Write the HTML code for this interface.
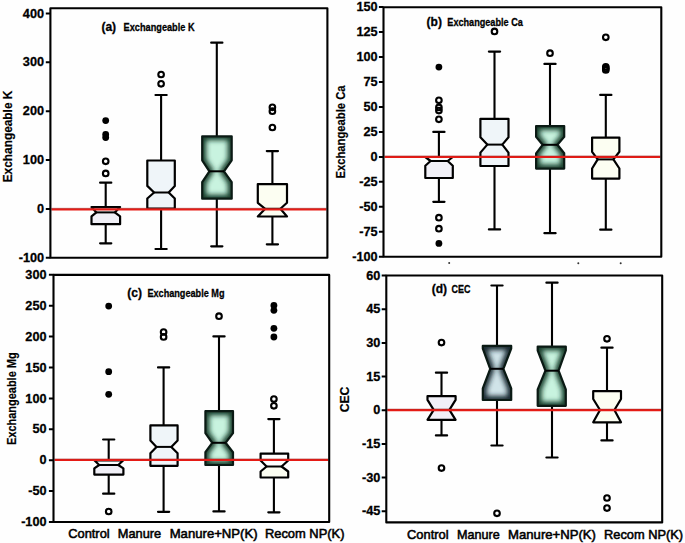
<!DOCTYPE html>
<html><head><meta charset="utf-8"><style>
html,body{margin:0;padding:0;background:#fff;}
svg{display:block;}
text{font-family:"Liberation Sans", sans-serif;font-weight:bold;fill:#000;}
.t{font-size:13.4px;stroke:#000;stroke-width:0.3px;}
.p{font-size:12px;stroke:#000;stroke-width:0.3px;}
.h{font-size:11.5px;stroke:#000;stroke-width:0.3px;}
.y{font-size:13px;stroke:#000;stroke-width:0.2px;}
.x{font-size:13px;font-weight:normal;stroke:#000;stroke-width:0.55px;}
</style></head><body>
<svg width="685" height="543" viewBox="0 0 685 543">
<defs><filter id="blur" x="-50%" y="-50%" width="200%" height="200%"><feGaussianBlur stdDeviation="2.4"/></filter><clipPath id="c1"><path d="M202.2 136.3 L231.7 136.3 L231.7 160.3 L224 171.3 L231.7 182.2 L231.7 198.7 L202.2 198.7 L202.2 182.2 L209.4 171.3 L202.2 160.3Z"/></clipPath><clipPath id="c2"><path d="M536.1 126.1 L564.2 126.1 L564.2 136.9 L557.4 144.8 L564.2 153.3 L564.2 168.6 L536.1 168.6 L536.1 153.3 L542.6 144.8 L536.1 136.9Z"/></clipPath><clipPath id="c3"><path d="M205.4 411.2 L233 411.2 L233 433.2 L225.6 442.8 L233 452.2 L233 465 L205.4 465 L205.4 452.2 L212.2 442.8 L205.4 433.2Z"/></clipPath><clipPath id="c4"><path d="M482.8 345.9 L511.2 345.9 L511.2 348.5 L503.4 368.8 L511.2 388.3 L511.2 400 L482.8 400 L482.8 388.3 L490.2 368.8 L482.8 348.5Z"/></clipPath><clipPath id="c5"><path d="M537.7 346.6 L565.8 346.6 L565.8 350.5 L558.6 370.7 L565.8 389.3 L565.8 405.8 L537.7 405.8 L537.7 389.3 L545.4 370.7 L537.7 350.5Z"/></clipPath></defs>
<rect width="685" height="543" fill="#fefefe"/>
<path d="M105.7 182.7V207M105.7 224.2V243.3" stroke="#000" stroke-width="2.1" fill="none"/>
<path d="M100.1 182.7H111.3M100.1 243.3H111.3" stroke="#000" stroke-width="2.2" stroke-linecap="round" fill="none"/>
<path d="M91.5 207 L120.1 207 L120.1 207 L114.8 212.4 L120.1 216.3 L120.1 224.2 L91.5 224.2 L91.5 216.3 L96.4 212.4 L91.5 207Z" fill="#f1f0f7"/>
<path d="M91.5 207 L120.1 207 L120.1 207 L114.8 212.4 L96.4 212.4 L91.5 207Z" fill="#fbfcfd"/>
<path d="M91.5 207 L120.1 207 L120.1 207 L114.8 212.4 L120.1 216.3 L120.1 224.2 L91.5 224.2 L91.5 216.3 L96.4 212.4 L91.5 207Z" fill="none" stroke="#000" stroke-width="2.2" stroke-linejoin="round"/>
<line x1="96.4" y1="212.4" x2="114.8" y2="212.4" stroke="#000" stroke-width="2"/>
<circle cx="105.7" cy="120.6" r="3.4" fill="#000"/>
<circle cx="105.7" cy="134.4" r="3.4" fill="#000"/>
<circle cx="105.7" cy="137.6" r="3.4" fill="#000"/>
<circle cx="105.7" cy="161.3" r="2.8" fill="none" stroke="#000" stroke-width="2.1"/>
<circle cx="105.7" cy="173.4" r="2.8" fill="none" stroke="#000" stroke-width="2.1"/>
<path d="M161.1 95V160.5M161.1 208.5V249" stroke="#000" stroke-width="2.1" fill="none"/>
<path d="M155.5 95H166.7M155.5 249H166.7" stroke="#000" stroke-width="2.2" stroke-linecap="round" fill="none"/>
<path d="M147.3 160.5 L174.8 160.5 L174.8 185.9 L168.7 192.5 L174.8 198.5 L174.8 208.5 L147.3 208.5 L147.3 198.5 L154.1 192.5 L147.3 185.9Z" fill="#eff5f9" stroke="#000" stroke-width="2.2" stroke-linejoin="round"/>
<line x1="154.1" y1="192.5" x2="168.7" y2="192.5" stroke="#000" stroke-width="2"/>
<circle cx="161.1" cy="74.5" r="2.8" fill="none" stroke="#000" stroke-width="2.1"/>
<circle cx="161.1" cy="83.8" r="2.8" fill="none" stroke="#000" stroke-width="2.1"/>
<path d="M216.8 42.7V136.3M216.8 198.7V246.3" stroke="#000" stroke-width="2.1" fill="none"/>
<path d="M211.2 42.7H222.4M211.2 246.3H222.4" stroke="#000" stroke-width="2.2" stroke-linecap="round" fill="none"/>
<path d="M202.2 136.3 L231.7 136.3 L231.7 160.3 L224 171.3 L231.7 182.2 L231.7 198.7 L202.2 198.7 L202.2 182.2 L209.4 171.3 L202.2 160.3Z" fill="#c8f3df"/>
<g clip-path="url(#c1)"><path d="M202.2 136.3 L231.7 136.3 L231.7 160.3 L224 171.3 L231.7 182.2 L231.7 198.7 L202.2 198.7 L202.2 182.2 L209.4 171.3 L202.2 160.3Z" fill="none" stroke="#173d2c" stroke-width="8" filter="url(#blur)"/></g>
<path d="M202.2 136.3 L231.7 136.3 L231.7 160.3 L224 171.3 L231.7 182.2 L231.7 198.7 L202.2 198.7 L202.2 182.2 L209.4 171.3 L202.2 160.3Z" fill="none" stroke="#0a1a14" stroke-width="2.2" stroke-linejoin="round"/>
<line x1="209.4" y1="171.3" x2="224" y2="171.3" stroke="#000" stroke-width="2"/>
<path d="M272.4 151.1V184.1M272.4 216.5V244.3" stroke="#000" stroke-width="2.1" fill="none"/>
<path d="M266.8 151.1H278M266.8 244.3H278" stroke="#000" stroke-width="2.2" stroke-linecap="round" fill="none"/>
<path d="M257.8 184.1 L287 184.1 L287 202.8 L280.4 208.8 L287 216.5 L287 216.5 L257.8 216.5 L257.8 216.5 L265.2 208.8 L257.8 202.8Z" fill="#fcfef2" stroke="#000" stroke-width="2.2" stroke-linejoin="round"/>
<line x1="265.2" y1="208.8" x2="280.4" y2="208.8" stroke="#000" stroke-width="2"/>
<circle cx="272.4" cy="107.3" r="2.8" fill="none" stroke="#000" stroke-width="2.1"/>
<circle cx="272.4" cy="111.2" r="2.8" fill="none" stroke="#000" stroke-width="2.1"/>
<circle cx="272.4" cy="127.5" r="2.8" fill="none" stroke="#000" stroke-width="2.1"/>
<line x1="51.4" y1="209.4" x2="326.4" y2="209.4" stroke="#e61b15" stroke-width="2.2"/>
<line x1="51.4" y1="208.3" x2="326.4" y2="208.3" stroke="#a02a2a" stroke-opacity="0.55" stroke-width="0.9"/>
<rect x="50.4" y="8.3" width="277" height="249.5" fill="none" stroke="#000" stroke-width="2.1" stroke-linejoin="round"/>
<path d="M45.8 13.4H50.4M45.8 62.3H50.4M45.8 111.2H50.4M45.8 160H50.4M45.8 208.9H50.4M45.8 257.8H50.4" stroke="#000" stroke-width="2"/>
<g transform="scale(0.95 1)">
<text x="46.42" y="17.6" text-anchor="end" class="t">400</text>
<text x="46.42" y="66.5" text-anchor="end" class="t">300</text>
<text x="46.42" y="115.4" text-anchor="end" class="t">200</text>
<text x="46.42" y="164.2" text-anchor="end" class="t">100</text>
<text x="46.42" y="213.1" text-anchor="end" class="t">0</text>
<text x="46.42" y="262" text-anchor="end" class="t">-100</text>
</g>
<text x="101.4" y="31.3" class="p">(a)</text>
<text x="123.6" y="30.7" class="h" textLength="71" lengthAdjust="spacingAndGlyphs">Exchangeable K</text>
<text transform="translate(11.9 182.3) rotate(-90)" class="y" textLength="91.7" lengthAdjust="spacingAndGlyphs">Exchangeable K</text>
<path d="M438.9 131.9V157M438.9 178V201.8" stroke="#000" stroke-width="2.1" fill="none"/>
<path d="M433.3 131.9H444.5M433.3 201.8H444.5" stroke="#000" stroke-width="2.2" stroke-linecap="round" fill="none"/>
<path d="M425.3 157 L452.8 157 L452.8 157 L447.7 161 L452.8 165.8 L452.8 178 L425.3 178 L425.3 165.8 L430.6 161 L425.3 157Z" fill="#f1f0f7"/>
<path d="M425.3 157 L452.8 157 L452.8 157 L447.7 161 L430.6 161 L425.3 157Z" fill="#fbfcfd"/>
<path d="M425.3 157 L452.8 157 L452.8 157 L447.7 161 L452.8 165.8 L452.8 178 L425.3 178 L425.3 165.8 L430.6 161 L425.3 157Z" fill="none" stroke="#000" stroke-width="2.2" stroke-linejoin="round"/>
<line x1="430.6" y1="161" x2="447.7" y2="161" stroke="#000" stroke-width="2"/>
<circle cx="438.9" cy="67.1" r="3.4" fill="#000"/>
<circle cx="438.9" cy="243.4" r="3.4" fill="#000"/>
<circle cx="438.9" cy="100.3" r="2.8" fill="none" stroke="#000" stroke-width="2.1"/>
<circle cx="438.9" cy="107.4" r="2.8" fill="none" stroke="#000" stroke-width="2.1"/>
<circle cx="438.9" cy="110.6" r="2.8" fill="none" stroke="#000" stroke-width="2.1"/>
<circle cx="438.9" cy="119.3" r="2.8" fill="none" stroke="#000" stroke-width="2.1"/>
<circle cx="438.9" cy="217.7" r="2.8" fill="none" stroke="#000" stroke-width="2.1"/>
<circle cx="438.9" cy="228.7" r="2.8" fill="none" stroke="#000" stroke-width="2.1"/>
<path d="M494.5 51.6V118.8M494.5 166V229.4" stroke="#000" stroke-width="2.1" fill="none"/>
<path d="M488.9 51.6H500.1M488.9 229.4H500.1" stroke="#000" stroke-width="2.2" stroke-linecap="round" fill="none"/>
<path d="M480.4 118.8 L508.5 118.8 L508.5 137.2 L502.3 144.6 L508.5 152.6 L508.5 166 L480.4 166 L480.4 152.6 L487.3 144.6 L480.4 137.2Z" fill="#eff5f9" stroke="#000" stroke-width="2.2" stroke-linejoin="round"/>
<line x1="487.3" y1="144.6" x2="502.3" y2="144.6" stroke="#000" stroke-width="2"/>
<circle cx="494.5" cy="31.4" r="2.8" fill="none" stroke="#000" stroke-width="2.1"/>
<path d="M550 63.9V126.1M550 168.6V233.2" stroke="#000" stroke-width="2.1" fill="none"/>
<path d="M544.4 63.9H555.6M544.4 233.2H555.6" stroke="#000" stroke-width="2.2" stroke-linecap="round" fill="none"/>
<path d="M536.1 126.1 L564.2 126.1 L564.2 136.9 L557.4 144.8 L564.2 153.3 L564.2 168.6 L536.1 168.6 L536.1 153.3 L542.6 144.8 L536.1 136.9Z" fill="#c8f3df"/>
<g clip-path="url(#c2)"><path d="M536.1 126.1 L564.2 126.1 L564.2 136.9 L557.4 144.8 L564.2 153.3 L564.2 168.6 L536.1 168.6 L536.1 153.3 L542.6 144.8 L536.1 136.9Z" fill="none" stroke="#173d2c" stroke-width="8" filter="url(#blur)"/></g>
<path d="M536.1 126.1 L564.2 126.1 L564.2 136.9 L557.4 144.8 L564.2 153.3 L564.2 168.6 L536.1 168.6 L536.1 153.3 L542.6 144.8 L536.1 136.9Z" fill="none" stroke="#0a1a14" stroke-width="2.2" stroke-linejoin="round"/>
<line x1="542.6" y1="144.8" x2="557.4" y2="144.8" stroke="#000" stroke-width="2"/>
<circle cx="550" cy="53.2" r="2.8" fill="none" stroke="#000" stroke-width="2.1"/>
<path d="M605.8 94.9V137.6M605.8 178.6V229.7" stroke="#000" stroke-width="2.1" fill="none"/>
<path d="M600.2 94.9H611.4M600.2 229.7H611.4" stroke="#000" stroke-width="2.2" stroke-linecap="round" fill="none"/>
<path d="M592.1 137.6 L619.4 137.6 L619.4 151.8 L613.4 159.4 L619.4 168.5 L619.4 178.6 L592.1 178.6 L592.1 168.5 L597.7 159.4 L592.1 151.8Z" fill="#fcfef2" stroke="#000" stroke-width="2.2" stroke-linejoin="round"/>
<line x1="597.7" y1="159.4" x2="613.4" y2="159.4" stroke="#000" stroke-width="2"/>
<circle cx="605.8" cy="37.3" r="2.8" fill="none" stroke="#000" stroke-width="2.1"/>
<circle cx="605.8" cy="66.8" r="2.8" fill="none" stroke="#000" stroke-width="2.1"/>
<circle cx="605.8" cy="68.4" r="2.8" fill="none" stroke="#000" stroke-width="2.1"/>
<circle cx="605.8" cy="69.9" r="2.8" fill="none" stroke="#000" stroke-width="2.1"/>
<line x1="384.5" y1="157" x2="660.3" y2="157" stroke="#e61b15" stroke-width="2.2"/>
<line x1="384.5" y1="155.9" x2="660.3" y2="155.9" stroke="#a02a2a" stroke-opacity="0.55" stroke-width="0.9"/>
<rect x="383.5" y="7.2" width="277.8" height="249.6" fill="none" stroke="#000" stroke-width="2.1" stroke-linejoin="round"/>
<path d="M378.9 7H383.5M378.9 31.98H383.5M378.9 56.96H383.5M378.9 81.94H383.5M378.9 106.92H383.5M378.9 131.9H383.5M378.9 156.88H383.5M378.9 181.86H383.5M378.9 206.84H383.5M378.9 231.82H383.5M378.9 256.8H383.5" stroke="#000" stroke-width="2"/>
<g transform="scale(0.95 1)">
<text x="397.47" y="11.2" text-anchor="end" class="t">150</text>
<text x="397.47" y="36.18" text-anchor="end" class="t">125</text>
<text x="397.47" y="61.16" text-anchor="end" class="t">100</text>
<text x="397.47" y="86.14" text-anchor="end" class="t">75</text>
<text x="397.47" y="111.12" text-anchor="end" class="t">50</text>
<text x="397.47" y="136.1" text-anchor="end" class="t">25</text>
<text x="397.47" y="161.08" text-anchor="end" class="t">0</text>
<text x="397.47" y="186.06" text-anchor="end" class="t">-25</text>
<text x="397.47" y="211.04" text-anchor="end" class="t">-50</text>
<text x="397.47" y="236.02" text-anchor="end" class="t">-75</text>
<text x="397.47" y="261" text-anchor="end" class="t">-100</text>
</g>
<text x="426.6" y="26.1" class="p">(b)</text>
<text x="447.3" y="26.3" class="h" textLength="75.5" lengthAdjust="spacingAndGlyphs">Exchangeable Ca</text>
<text transform="translate(345.2 178.5) rotate(-90)" class="y" textLength="93" lengthAdjust="spacingAndGlyphs">Exchangeable Ca</text>
<path d="M108.7 439.5V460.3M108.7 474.6V493.7" stroke="#000" stroke-width="2.1" fill="none"/>
<path d="M103.1 439.5H114.3M103.1 493.7H114.3" stroke="#000" stroke-width="2.2" stroke-linecap="round" fill="none"/>
<path d="M94.3 460.3 L123.4 460.3 L123.4 460.3 L118.3 465 L123.4 468.3 L123.4 474.6 L94.3 474.6 L94.3 468.3 L99.2 465 L94.3 460.3Z" fill="#f1f0f7"/>
<path d="M94.3 460.3 L123.4 460.3 L123.4 460.3 L118.3 465 L99.2 465 L94.3 460.3Z" fill="#fbfcfd"/>
<path d="M94.3 460.3 L123.4 460.3 L123.4 460.3 L118.3 465 L123.4 468.3 L123.4 474.6 L94.3 474.6 L94.3 468.3 L99.2 465 L94.3 460.3Z" fill="none" stroke="#000" stroke-width="2.2" stroke-linejoin="round"/>
<line x1="99.2" y1="465" x2="118.3" y2="465" stroke="#000" stroke-width="2"/>
<circle cx="108.7" cy="306.1" r="3.4" fill="#000"/>
<circle cx="108.7" cy="371.7" r="3.4" fill="#000"/>
<circle cx="108.7" cy="394.3" r="3.4" fill="#000"/>
<circle cx="108.7" cy="511.5" r="2.8" fill="none" stroke="#000" stroke-width="2.1"/>
<path d="M163.6 367.4V425.4M163.6 465.8V511.8" stroke="#000" stroke-width="2.1" fill="none"/>
<path d="M158 367.4H169.2M158 511.8H169.2" stroke="#000" stroke-width="2.2" stroke-linecap="round" fill="none"/>
<path d="M150.4 425.4 L177.6 425.4 L177.6 440.4 L171.3 446.9 L177.6 453.3 L177.6 465.8 L150.4 465.8 L150.4 453.3 L156.5 446.9 L150.4 440.4Z" fill="#eff5f9" stroke="#000" stroke-width="2.2" stroke-linejoin="round"/>
<line x1="156.5" y1="446.9" x2="171.3" y2="446.9" stroke="#000" stroke-width="2"/>
<circle cx="163.6" cy="332" r="2.8" fill="none" stroke="#000" stroke-width="2.1"/>
<circle cx="163.6" cy="336.9" r="2.8" fill="none" stroke="#000" stroke-width="2.1"/>
<path d="M219 336.4V411.2M219 465V511.4" stroke="#000" stroke-width="2.1" fill="none"/>
<path d="M213.4 336.4H224.6M213.4 511.4H224.6" stroke="#000" stroke-width="2.2" stroke-linecap="round" fill="none"/>
<path d="M205.4 411.2 L233 411.2 L233 433.2 L225.6 442.8 L233 452.2 L233 465 L205.4 465 L205.4 452.2 L212.2 442.8 L205.4 433.2Z" fill="#c8f3df"/>
<g clip-path="url(#c3)"><path d="M205.4 411.2 L233 411.2 L233 433.2 L225.6 442.8 L233 452.2 L233 465 L205.4 465 L205.4 452.2 L212.2 442.8 L205.4 433.2Z" fill="none" stroke="#173d2c" stroke-width="8" filter="url(#blur)"/></g>
<path d="M205.4 411.2 L233 411.2 L233 433.2 L225.6 442.8 L233 452.2 L233 465 L205.4 465 L205.4 452.2 L212.2 442.8 L205.4 433.2Z" fill="none" stroke="#0a1a14" stroke-width="2.2" stroke-linejoin="round"/>
<line x1="212.2" y1="442.8" x2="225.6" y2="442.8" stroke="#000" stroke-width="2"/>
<circle cx="219" cy="316.2" r="2.8" fill="none" stroke="#000" stroke-width="2.1"/>
<path d="M273.9 419.1V453.6M273.9 477.5V512.3" stroke="#000" stroke-width="2.1" fill="none"/>
<path d="M268.3 419.1H279.5M268.3 512.3H279.5" stroke="#000" stroke-width="2.2" stroke-linecap="round" fill="none"/>
<path d="M260.6 453.6 L288.2 453.6 L288.2 460.5 L281.6 466.5 L288.2 471.5 L288.2 477.5 L260.6 477.5 L260.6 471.5 L266.6 466.5 L260.6 460.5Z" fill="#fcfef2"/>
<path d="M260.6 453.6 L288.2 453.6 L288.2 460.5 L281.6 466.5 L266.6 466.5 L260.6 460.5Z" fill="#ffffff"/>
<path d="M260.6 453.6 L288.2 453.6 L288.2 460.5 L281.6 466.5 L288.2 471.5 L288.2 477.5 L260.6 477.5 L260.6 471.5 L266.6 466.5 L260.6 460.5Z" fill="none" stroke="#000" stroke-width="2.2" stroke-linejoin="round"/>
<line x1="266.6" y1="466.5" x2="281.6" y2="466.5" stroke="#000" stroke-width="2"/>
<circle cx="273.9" cy="305.4" r="3.4" fill="#000"/>
<circle cx="273.9" cy="310.3" r="3.4" fill="#000"/>
<circle cx="273.9" cy="328.3" r="3.4" fill="#000"/>
<circle cx="273.9" cy="337" r="3.4" fill="#000"/>
<circle cx="273.9" cy="399" r="2.8" fill="none" stroke="#000" stroke-width="2.1"/>
<circle cx="273.9" cy="405.8" r="2.8" fill="none" stroke="#000" stroke-width="2.1"/>
<line x1="54.5" y1="460" x2="328.2" y2="460" stroke="#e61b15" stroke-width="2.2"/>
<line x1="54.5" y1="458.9" x2="328.2" y2="458.9" stroke="#a02a2a" stroke-opacity="0.55" stroke-width="0.9"/>
<rect x="53.5" y="274.9" width="275.7" height="247.1" fill="none" stroke="#000" stroke-width="2.1" stroke-linejoin="round"/>
<path d="M48.9 274.8H53.5M48.9 305.7H53.5M48.9 336.6H53.5M48.9 367.5H53.5M48.9 398.4H53.5M48.9 429.3H53.5M48.9 460.2H53.5M48.9 491.1H53.5M48.9 522H53.5" stroke="#000" stroke-width="2"/>
<g transform="scale(0.95 1)">
<text x="49.05" y="279" text-anchor="end" class="t">300</text>
<text x="49.05" y="309.9" text-anchor="end" class="t">250</text>
<text x="49.05" y="340.8" text-anchor="end" class="t">200</text>
<text x="49.05" y="371.7" text-anchor="end" class="t">150</text>
<text x="49.05" y="402.6" text-anchor="end" class="t">100</text>
<text x="49.05" y="433.5" text-anchor="end" class="t">50</text>
<text x="49.05" y="464.4" text-anchor="end" class="t">0</text>
<text x="49.05" y="495.3" text-anchor="end" class="t">-50</text>
<text x="49.05" y="526.2" text-anchor="end" class="t">-100</text>
</g>
<text x="127.3" y="296.8" class="p">(c)</text>
<text x="147.4" y="296.6" class="h" textLength="77.1" lengthAdjust="spacingAndGlyphs">Exchangeable Mg</text>
<text transform="translate(15.9 445) rotate(-90)" class="y" textLength="92.6" lengthAdjust="spacingAndGlyphs">Exchangeable Mg</text>
<path d="M441.5 372.7V396.2M441.5 419.8V435.4" stroke="#000" stroke-width="2.1" fill="none"/>
<path d="M435.9 372.7H447.1M435.9 435.4H447.1" stroke="#000" stroke-width="2.2" stroke-linecap="round" fill="none"/>
<path d="M427.5 396.2 L455.6 396.2 L455.6 399.9 L449.4 409.9 L455.6 419.8 L455.6 419.8 L427.5 419.8 L427.5 419.8 L433.7 409.9 L427.5 399.9Z" fill="#f1f0f7" stroke="#000" stroke-width="2.2" stroke-linejoin="round"/>
<line x1="433.7" y1="409.9" x2="449.4" y2="409.9" stroke="#000" stroke-width="2"/>
<circle cx="441.5" cy="342.6" r="2.8" fill="none" stroke="#000" stroke-width="2.1"/>
<circle cx="441.5" cy="468.1" r="2.8" fill="none" stroke="#000" stroke-width="2.1"/>
<path d="M497 285.5V345.9M497 400V445.5" stroke="#000" stroke-width="2.1" fill="none"/>
<path d="M491.4 285.5H502.6M491.4 445.5H502.6" stroke="#000" stroke-width="2.2" stroke-linecap="round" fill="none"/>
<path d="M482.8 345.9 L511.2 345.9 L511.2 348.5 L503.4 368.8 L511.2 388.3 L511.2 400 L482.8 400 L482.8 388.3 L490.2 368.8 L482.8 348.5Z" fill="#d0e4e9"/>
<g clip-path="url(#c4)"><path d="M482.8 345.9 L511.2 345.9 L511.2 348.5 L503.4 368.8 L511.2 388.3 L511.2 400 L482.8 400 L482.8 388.3 L490.2 368.8 L482.8 348.5Z" fill="none" stroke="#17282e" stroke-width="8" filter="url(#blur)"/></g>
<path d="M482.8 345.9 L511.2 345.9 L511.2 348.5 L503.4 368.8 L511.2 388.3 L511.2 400 L482.8 400 L482.8 388.3 L490.2 368.8 L482.8 348.5Z" fill="none" stroke="#0a1a14" stroke-width="2.2" stroke-linejoin="round"/>
<line x1="490.2" y1="368.8" x2="503.4" y2="368.8" stroke="#000" stroke-width="2"/>
<circle cx="497" cy="513.3" r="2.8" fill="none" stroke="#000" stroke-width="2.1"/>
<path d="M552 282.7V346.6M552 405.8V457.5" stroke="#000" stroke-width="2.1" fill="none"/>
<path d="M546.4 282.7H557.6M546.4 457.5H557.6" stroke="#000" stroke-width="2.2" stroke-linecap="round" fill="none"/>
<path d="M537.7 346.6 L565.8 346.6 L565.8 350.5 L558.6 370.7 L565.8 389.3 L565.8 405.8 L537.7 405.8 L537.7 389.3 L545.4 370.7 L537.7 350.5Z" fill="#c8f3df"/>
<g clip-path="url(#c5)"><path d="M537.7 346.6 L565.8 346.6 L565.8 350.5 L558.6 370.7 L565.8 389.3 L565.8 405.8 L537.7 405.8 L537.7 389.3 L545.4 370.7 L537.7 350.5Z" fill="none" stroke="#173d2c" stroke-width="8" filter="url(#blur)"/></g>
<path d="M537.7 346.6 L565.8 346.6 L565.8 350.5 L558.6 370.7 L565.8 389.3 L565.8 405.8 L537.7 405.8 L537.7 389.3 L545.4 370.7 L537.7 350.5Z" fill="none" stroke="#0a1a14" stroke-width="2.2" stroke-linejoin="round"/>
<line x1="545.4" y1="370.7" x2="558.6" y2="370.7" stroke="#000" stroke-width="2"/>
<path d="M607 347.7V391.2M607 422.3V440.4" stroke="#000" stroke-width="2.1" fill="none"/>
<path d="M601.4 347.7H612.6M601.4 440.4H612.6" stroke="#000" stroke-width="2.2" stroke-linecap="round" fill="none"/>
<path d="M593.2 391.2 L621 391.2 L621 399 L614.4 410 L621 422.3 L621 422.3 L593.2 422.3 L593.2 422.3 L600 410 L593.2 399Z" fill="#fcfef2" stroke="#000" stroke-width="2.2" stroke-linejoin="round"/>
<line x1="600" y1="410" x2="614.4" y2="410" stroke="#000" stroke-width="2"/>
<circle cx="607" cy="338.8" r="2.8" fill="none" stroke="#000" stroke-width="2.1"/>
<circle cx="607" cy="498" r="2.8" fill="none" stroke="#000" stroke-width="2.1"/>
<circle cx="607" cy="508.1" r="2.8" fill="none" stroke="#000" stroke-width="2.1"/>
<line x1="387.3" y1="410.2" x2="661.2" y2="410.2" stroke="#e61b15" stroke-width="2.2"/>
<line x1="387.3" y1="409.1" x2="661.2" y2="409.1" stroke="#a02a2a" stroke-opacity="0.55" stroke-width="0.9"/>
<rect x="386.3" y="275.5" width="275.9" height="246.9" fill="none" stroke="#000" stroke-width="2.1" stroke-linejoin="round"/>
<path d="M381.7 275.6H386.3M381.7 309.27H386.3M381.7 342.94H386.3M381.7 376.61H386.3M381.7 410.28H386.3M381.7 443.95H386.3M381.7 477.62H386.3M381.7 511.29H386.3" stroke="#000" stroke-width="2"/>
<g transform="scale(0.95 1)">
<text x="400.32" y="279.8" text-anchor="end" class="t">60</text>
<text x="400.32" y="313.47" text-anchor="end" class="t">45</text>
<text x="400.32" y="347.14" text-anchor="end" class="t">30</text>
<text x="400.32" y="380.81" text-anchor="end" class="t">15</text>
<text x="400.32" y="414.48" text-anchor="end" class="t">0</text>
<text x="400.32" y="448.15" text-anchor="end" class="t">-15</text>
<text x="400.32" y="481.82" text-anchor="end" class="t">-30</text>
<text x="400.32" y="515.49" text-anchor="end" class="t">-45</text>
</g>
<text x="431.8" y="293" class="p">(d)</text>
<text x="451.5" y="293.1" class="h" textLength="18.9" lengthAdjust="spacingAndGlyphs">CEC</text>
<text transform="translate(348.8 412.3) rotate(-90)" class="y" textLength="25.7" lengthAdjust="spacingAndGlyphs">CEC</text>
<text x="68.2" y="537.7" class="x" textLength="41.5" lengthAdjust="spacingAndGlyphs">Control</text>
<text x="117.8" y="537.7" class="x" textLength="43.4" lengthAdjust="spacingAndGlyphs">Manure</text>
<text x="169.7" y="537.7" class="x" textLength="87.9" lengthAdjust="spacingAndGlyphs">Manure+NP(K)</text>
<text x="264.9" y="537.7" class="x" textLength="79.6" lengthAdjust="spacingAndGlyphs">Recom NP(K)</text>
<text x="407" y="538.5" class="x" textLength="41.6" lengthAdjust="spacingAndGlyphs">Control</text>
<text x="457" y="538.5" class="x" textLength="42.7" lengthAdjust="spacingAndGlyphs">Manure</text>
<text x="508.1" y="538.5" class="x" textLength="87.8" lengthAdjust="spacingAndGlyphs">Manure+NP(K)</text>
<text x="604" y="538.5" class="x" textLength="79.1" lengthAdjust="spacingAndGlyphs">Recom NP(K)</text>
<circle cx="449.2" cy="263.1" r="1.0" fill="#333"/>
<circle cx="578.3" cy="263.2" r="1.0" fill="#333"/>
<circle cx="620.7" cy="263.2" r="1.0" fill="#333"/>
</svg>
</body></html>
